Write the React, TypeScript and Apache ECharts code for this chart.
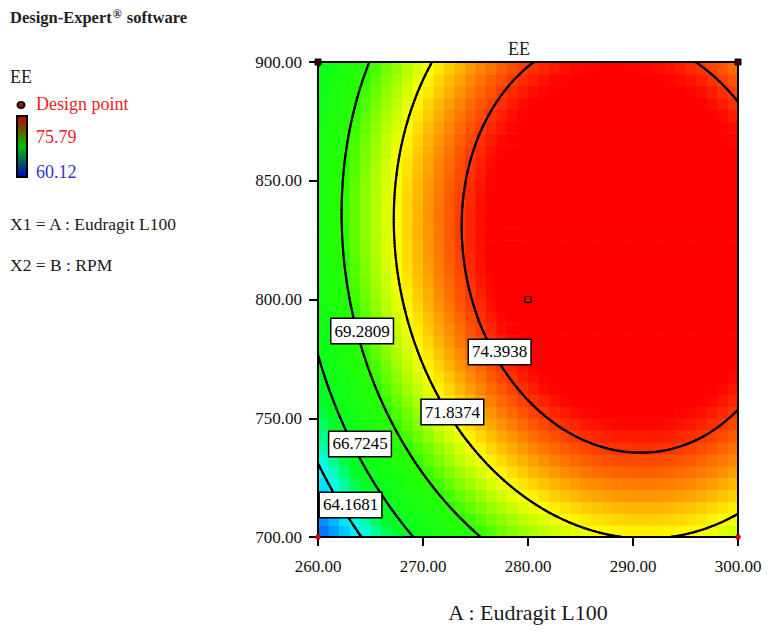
import { useEffect, useRef } from "react";
import * as echarts from "echarts";

// ---- data ----
const xTicks = [260, 270, 280, 290, 300];
const yTicks = [700, 750, 800, 850, 900];
// quadratic response-surface model in coded units (A=(X1-280)/20, B=(X2-800)/100), estimated from the plotted contours
const modelTerms = ["Intercept", "A", "B", "AB", "A2", "B2"];
const modelCoefs = [75.79, 4.1, 1.87, -0.63, -4.2, -3.36];
const contourLevels = [64.1681, 66.7245, 69.2809, 71.8374, 74.3938];
const labelA = [263.1, 264.0, 264.2, 272.8, 277.3];
const labelB = [713.5, 739.2, 786.7, 752.6, 777.9];
const bottomPtA = [260, 300];
const bottomPtB = [700, 700];
const topPtA = [260, 300];
const topPtB = [900, 900];
const centerA = [280];
const centerB = [800];
const colorMin = 60.12;
const colorMax = 75.79;
const gridCols = 40;
const gridRows = 40;

// colour ramp stops (value -> colour) as seen in the picture
const rampValues = [60.12, 61.0, 64.3, 66.0, 69.3, 71.9, 75.1, 75.79];
const rampColors = [
  [0, 20, 230],
  [0, 40, 255],
  [0, 255, 255],
  [0, 255, 40],
  [40, 255, 0],
  [255, 255, 0],
  [255, 0, 0],
  [255, 0, 0],
];

const FONT = "Liberation Serif";

function model(a: number, b: number) {
  const A = (a - 280) / 20;
  const B = (b - 800) / 100;
  const c = modelCoefs;
  return c[0] + c[1] * A + c[2] * B + c[3] * A * B + c[4] * A * A + c[5] * B * B;
}

function rampAt(v: number) {
  for (let k = 0; k < rampValues.length - 1; k++) {
    if (v <= rampValues[k + 1]) {
      const t = Math.max(0, (v - rampValues[k]) / (rampValues[k + 1] - rampValues[k]));
      const c0 = rampColors[k], c1 = rampColors[k + 1];
      const c = c0.map((x, i) => Math.round(x + (c1[i] - x) * t));
      return `rgb(${c[0]},${c[1]},${c[2]})`;
    }
  }
  const c = rampColors[rampColors.length - 1];
  return `rgb(${c[0]},${c[1]},${c[2]})`;
}

function buildRamp() {
  const n = 80;
  const out: string[] = [];
  for (let i = 0; i <= n; i++) out.push(rampAt(colorMin + ((colorMax - colorMin) * i) / n));
  return out;
}

function buildCells() {
  const out: number[][] = [];
  const dA = (xTicks[4] - xTicks[0]) / gridCols;
  const dB = (yTicks[4] - yTicks[0]) / gridRows;
  for (let i = 0; i < gridCols; i++) {
    for (let j = 0; j < gridRows; j++) {
      const a = xTicks[0] + (i + 0.5) * dA;
      const b = yTicks[0] + (j + 0.5) * dB;
      out.push([a, b, model(a, b)]);
    }
  }
  return { out, dA, dB };
}

function buildContours() {
  const N = 160;
  const a0 = xTicks[0], a1 = xTicks[4], b0 = yTicks[0], b1 = yTicks[4];
  const ga: number[] = [], gb: number[] = [];
  for (let i = 0; i <= N; i++) ga.push(a0 + ((a1 - a0) * i) / N);
  for (let j = 0; j <= N; j++) gb.push(b0 + ((b1 - b0) * j) / N);
  const v: number[][] = [];
  for (let i = 0; i <= N; i++) {
    const row: number[] = [];
    for (let j = 0; j <= N; j++) row.push(model(ga[i], gb[j]));
    v.push(row);
  }
  const segs: number[][] = [];
  for (const L of contourLevels) {
    for (let i = 0; i < N; i++) {
      for (let j = 0; j < N; j++) {
        const c = [
          [ga[i], gb[j], v[i][j]],
          [ga[i + 1], gb[j], v[i + 1][j]],
          [ga[i + 1], gb[j + 1], v[i + 1][j + 1]],
          [ga[i], gb[j + 1], v[i][j + 1]],
        ];
        const pts: number[][] = [];
        for (let k = 0; k < 4; k++) {
          const p = c[k], q = c[(k + 1) % 4];
          if ((p[2] - L) * (q[2] - L) < 0) {
            const t = (L - p[2]) / (q[2] - p[2]);
            pts.push([p[0] + t * (q[0] - p[0]), p[1] + t * (q[1] - p[1])]);
          }
        }
        if (pts.length === 2) segs.push([pts[0][0], pts[0][1], pts[1][0], pts[1][1]]);
        else if (pts.length === 4) {
          segs.push([pts[0][0], pts[0][1], pts[1][0], pts[1][1]]);
          segs.push([pts[2][0], pts[2][1], pts[3][0], pts[3][1]]);
        }
      }
    }
  }
  return segs;
}

export default function App() {
  const ref = useRef<HTMLDivElement>(null);
  useEffect(() => {
    if (!ref.current) return;
    const chart = echarts.init(ref.current, undefined, { renderer: "svg" });
    const { out: cells, dA, dB } = buildCells();
    const segs = buildContours();
    const labels = contourLevels.map((L, i) => [labelA[i], labelB[i], L]);

    const axisCommon = {
      type: "value" as const,
      splitLine: { show: false },
      z: 6,
    };

    chart.setOption({
      animation: false,
      title: {
        text: "EE",
        left: 503,
        top: 35,
        textStyle: { fontFamily: FONT, fontSize: 18, fontWeight: "normal", color: "#1a1a1a" },
      },
      grid: { left: 318, top: 62, width: 420, height: 475 },
      visualMap: {
        show: false,
        type: "continuous",
        min: colorMin,
        max: colorMax,
        dimension: 2,
        seriesIndex: 0,
        inRange: { color: buildRamp() },
      },
      xAxis: [
        {
          ...axisCommon,
          min: xTicks[0],
          max: xTicks[4],
          interval: 10,
          position: "bottom",
          axisLine: { show: true, onZero: false, lineStyle: { color: "#000", width: 2 } },
          axisTick: { show: true, length: 9, lineStyle: { color: "#000", width: 2 } },
          axisLabel: {
            formatter: (v: number) => v.toFixed(2),
            fontFamily: FONT,
            fontSize: 17,
            color: "#111",
            margin: 21,
          },
          name: "A : Eudragit L100",
          nameLocation: "middle",
          nameGap: 64,
          nameTextStyle: { fontFamily: FONT, fontSize: 22, color: "#1a1a1a" },
        },
        {
          ...axisCommon,
          min: xTicks[0],
          max: xTicks[4],
          position: "top",
          axisLine: { show: true, onZero: false, lineStyle: { color: "#000", width: 2 } },
          axisTick: { show: false },
          axisLabel: { show: false },
        },
      ],
      yAxis: [
        {
          ...axisCommon,
          min: yTicks[0],
          max: yTicks[4],
          interval: 50,
          position: "left",
          axisLine: { show: true, onZero: false, lineStyle: { color: "#000", width: 2 } },
          axisTick: { show: true, length: 9, lineStyle: { color: "#000", width: 2 } },
          axisLabel: {
            formatter: (v: number) => v.toFixed(2),
            fontFamily: FONT,
            fontSize: 17,
            color: "#111",
            margin: 16,
          },
        },
        {
          ...axisCommon,
          min: yTicks[0],
          max: yTicks[4],
          position: "right",
          axisLine: { show: true, onZero: false, lineStyle: { color: "#000", width: 2 } },
          axisTick: { show: false },
          axisLabel: { show: false },
        },
      ],
      series: [
        {
          type: "custom",
          name: "EE surface",
          data: cells,
          encode: { x: 0, y: 1 },
          clip: true,
          renderItem: (_p: any, api: any) => {
            const a = api.value(0), b = api.value(1);
            const p1 = api.coord([a - dA / 2, b + dB / 2]);
            const p2 = api.coord([a + dA / 2, b - dB / 2]);
            return {
              type: "rect",
              shape: { x: p1[0], y: p1[1], width: p2[0] - p1[0] + 0.6, height: p2[1] - p1[1] + 0.6 },
              style: { fill: api.visual("color") },
            };
          },
        },
        {
          type: "custom",
          name: "contours",
          data: segs,
          encode: { x: [0, 2], y: [1, 3] },
          clip: true,
          z: 3,
          renderItem: (_p: any, api: any) => {
            const p1 = api.coord([api.value(0), api.value(1)]);
            const p2 = api.coord([api.value(2), api.value(3)]);
            return {
              type: "line",
              shape: { x1: p1[0], y1: p1[1], x2: p2[0], y2: p2[1] },
              style: { stroke: "#000", lineWidth: 2.2, lineCap: "round" },
            };
          },
        },
        {
          type: "scatter",
          name: "bottom points",
          data: bottomPtA.map((a, i) => [a, bottomPtB[i]]),
          symbol: "circle",
          symbolSize: 5,
          z: 8,
          itemStyle: { color: "#e00000", borderColor: "#600", borderWidth: 0.5, opacity: 1 },
        },
        {
          type: "scatter",
          name: "top points",
          data: topPtA.map((a, i) => [a, topPtB[i]]),
          symbol: "rect",
          symbolSize: 6,
          z: 8,
          itemStyle: { color: "#400000", borderColor: "#000", borderWidth: 1, opacity: 1 },
        },
        {
          type: "scatter",
          name: "center",
          data: centerA.map((a, i) => [a, centerB[i]]),
          symbol: "rect",
          symbolSize: 6,
          z: 8,
          itemStyle: { color: "rgba(0,0,0,0)", borderColor: "#000", borderWidth: 1.2, opacity: 1 },
        },
        {
          type: "scatter",
          name: "contour labels",
          data: labels,
          symbolSize: 1,
          z: 9,
          itemStyle: { color: "rgba(0,0,0,0)", opacity: 1 },
          label: {
            show: true,
            position: "inside",
            formatter: (p: any) => p.value[2].toFixed(4),
            fontFamily: FONT,
            fontSize: 17,
            color: "#000",
            opacity: 1,
            backgroundColor: "#fff",
            borderColor: "#000",
            borderWidth: 1.5,
            padding: [4, 3, 3, 3],
          },
        },
      ],
      graphic: [
        {
          type: "text",
          left: 10,
          top: 8,
          style: {
            text: "{a|Design-Expert}{b|®}{a| software}",
            rich: {
              a: { fontFamily: FONT, fontSize: 16.5, fontWeight: "bold", fill: "#222" },
              b: { fontFamily: FONT, fontSize: 12, fontWeight: "bold", fill: "#222", verticalAlign: "top", padding: [0, 1, 7, 1] },
            },
          },
        },
        { type: "text", left: 10, top: 68, style: { text: "EE", fontFamily: FONT, fontSize: 18, fill: "#1a1a1a" } },
        {
          type: "ellipse",
          shape: { cx: 21, cy: 105, rx: 3.5, ry: 3 },
          style: { fill: "#d00000", stroke: "#000", lineWidth: 2 },
        },
        {
          type: "rect",
          shape: { x: 17, y: 116, width: 10, height: 61 },
          style: {
            fill: new echarts.graphic.LinearGradient(0, 0, 0, 1, [
              { offset: 0, color: "#c00000" },
              { offset: 0.5, color: "#00c000" },
              { offset: 1, color: "#0000c0" },
            ]),
            stroke: "#000",
            lineWidth: 2,
          },
        },
        { type: "text", left: 36, top: 95, style: { text: "Design point", fontFamily: FONT, fontSize: 18, fill: "#ee1c24" } },
        { type: "text", left: 36, top: 128, style: { text: "75.79", fontFamily: FONT, fontSize: 18, fill: "#e8202a" } },
        { type: "text", left: 36, top: 163, style: { text: "60.12", fontFamily: FONT, fontSize: 18, fill: "#3535c8" } },
        { type: "text", left: 10, top: 215, style: { text: "X1 = A : Eudragit L100", fontFamily: FONT, fontSize: 17.5, fill: "#1a1a1a" } },
        { type: "text", left: 10, top: 256, style: { text: "X2 = B : RPM", fontFamily: FONT, fontSize: 17.5, fill: "#1a1a1a" } },
      ],
    });
    return () => chart.dispose();
  }, []);
  return (
    <div
      ref={ref}
      style={{ position: "absolute", left: 0, top: 0, width: 769, height: 633, background: "#fff" }}
    />
  );
}
